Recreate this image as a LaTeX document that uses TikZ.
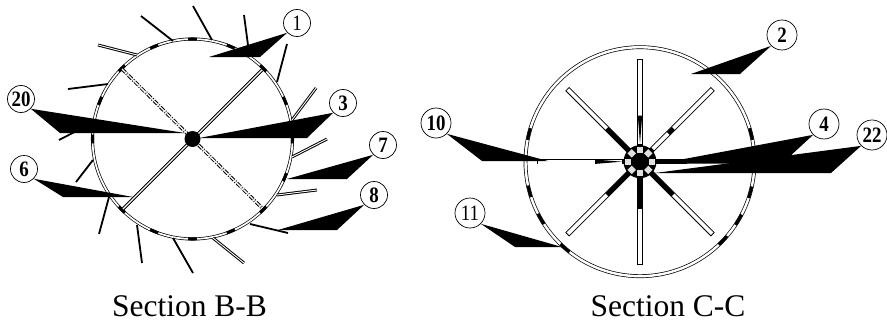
\documentclass[tikz,border=0pt]{standalone}
\usepackage{fontspec}
\setmainfont{Liberation Serif}
\newfontfamily\numfont[FakeStretch=0.86]{Liberation Serif}
\usetikzlibrary{calc, positioning}

\begin{document}
\begin{tikzpicture}[
    x=1pt, y=-1pt,
    hub node/.style={circle, fill=black, inner sep=0pt},
    ring B/.style={draw=black, line width=0.7pt, double=white, double distance=1.7pt},
    ring C/.style={draw=black, line width=0.7pt, double=white, double distance=2.4pt},
    ring mark/.style={draw=black, line width=3pt},
    fin/.style={draw=black, line width=1.8pt},
    double fin/.style={draw=black, line width=1pt, double=white, double distance=0.9pt},
    chain spoke/.style={draw=black, line width=1pt, double=white, double distance=1.3pt, dash pattern=on 5pt off 1.5pt on 1pt off 1.5pt},
    spoke/.style={draw=black, line width=5.4pt},
    slot/.style={draw=white, line width=3.6pt},
    hub square/.style={rectangle, fill=black!12, minimum size=6pt, inner sep=0pt},
    leader/.style={fill=black},
    num node/.style={circle, draw=black, fill=white, line width=0.7pt, minimum size=27pt, inner sep=0pt, font=\fontsize{22}{22}\numfont\bfseries},
    thin num/.style={font=\fontsize{22}{22}\numfont},
    caption node/.style={anchor=base, font=\fontsize{31.5}{36}\selectfont}
]
\useasboundingbox (0,0) rectangle (887,324);

% Hub centres
\coordinate (hub B) at (192.5,139);
\coordinate (hub C) at (640,161.7);

% Section B-B: ring
\draw[ring B] (hub B) circle[radius=100];

% Ring marks
\draw[ring mark] ($(hub B)+(-2.5:100)$) arc[start angle=-2.5, delta angle=5, radius=100];
\draw[ring mark] ($(hub B)+(20:100)$) arc[start angle=20, delta angle=5, radius=100];
\draw[ring mark] ($(hub B)+(42.5:100)$) arc[start angle=42.5, delta angle=5, radius=100];
\draw[ring mark] ($(hub B)+(65:100)$) arc[start angle=65, delta angle=5, radius=100];
\draw[ring mark] ($(hub B)+(87.5:100)$) arc[start angle=87.5, delta angle=5, radius=100];
\draw[ring mark] ($(hub B)+(110:100)$) arc[start angle=110, delta angle=5, radius=100];
\draw[ring mark] ($(hub B)+(132.5:100)$) arc[start angle=132.5, delta angle=5, radius=100];
\draw[ring mark] ($(hub B)+(177.5:100)$) arc[start angle=177.5, delta angle=5, radius=100];
\draw[ring mark] ($(hub B)+(200:100)$) arc[start angle=200, delta angle=5, radius=100];
\draw[ring mark] ($(hub B)+(222.5:100)$) arc[start angle=222.5, delta angle=5, radius=100];
\draw[ring mark] ($(hub B)+(245:100)$) arc[start angle=245, delta angle=5, radius=100];
\draw[ring mark] ($(hub B)+(267.5:100)$) arc[start angle=267.5, delta angle=5, radius=100];
\draw[ring mark] ($(hub B)+(290:100)$) arc[start angle=290, delta angle=5, radius=100];
\draw[ring mark] ($(hub B)+(312.5:100)$) arc[start angle=312.5, delta angle=5, radius=100];
\draw[ring mark] ($(hub B)+(335:100)$) arc[start angle=335, delta angle=5, radius=100];

% Outer fins
\draw[fin] (173,41) -- (141,16);
\draw[fin] (212,40) -- (193,6);
\draw[double fin] (137,55) -- (98,45);
\draw[fin] (108,84) -- (68,89);
\draw[fin] (94,122) -- (59,140);
\draw[fin] (248,45) -- (244,15);
\draw[fin] (277,82) -- (287,44);
\draw[double fin] (292,120) -- (316,88);
\draw[double fin] (292,157) -- (327,139);
\draw[fin] (93,160) -- (76,182);
\draw[fin] (109,197) -- (99,234);
\draw[fin] (137,225) -- (142,263);
\draw[fin] (173,238) -- (193,273);
\draw[double fin] (213,238) -- (244,263);
\draw[fin] (250,224) -- (288,233);
\draw[double fin] (277,195) -- (317,190);

% Inner spokes
\draw[double fin, double distance=1.4pt] (262,70) -- (123,209);
\draw[chain spoke] (122,69) -- (262,208);
\node[hub node, minimum size=16pt] (hub nB) at (hub B) {};

% Section C-C: ring
\draw[ring C] (hub C) circle[radius=114.5];

% Ring marks
\draw[ring mark] ($(hub C)+(-17:114.5)$) arc[start angle=-17, delta angle=6, radius=114.5];
\draw[ring mark] ($(hub C)+(12.5:114.5)$) arc[start angle=12.5, delta angle=6, radius=114.5];
\draw[ring mark] ($(hub C)+(27.5:114.5)$) arc[start angle=27.5, delta angle=6, radius=114.5];
\draw[ring mark] ($(hub C)+(40.5:114.5)$) arc[start angle=40.5, delta angle=6, radius=114.5];
\draw[ring mark] ($(hub C)+(128:114.5)$) arc[start angle=128, delta angle=6, radius=114.5];
\draw[ring mark] ($(hub C)+(147:114.5)$) arc[start angle=147, delta angle=6, radius=114.5];
\draw[ring mark] ($(hub C)+(162:114.5)$) arc[start angle=162, delta angle=6, radius=114.5];
\draw[ring mark] ($(hub C)+(191:114.5)$) arc[start angle=191, delta angle=6, radius=114.5];

% Spokes
\draw[spoke] (hub C) -- ($(hub C)+(0:103)$);
\draw[spoke] (hub C) -- ($(hub C)+(45:103)$);
\draw[spoke] (hub C) -- ($(hub C)+(90:103)$);
\draw[spoke] (hub C) -- ($(hub C)+(135:103)$);
\draw[spoke] (hub C) -- ($(hub C)+(180:103)$);
\draw[spoke] (hub C) -- ($(hub C)+(225:103)$);
\draw[spoke] (hub C) -- ($(hub C)+(270:103)$);
\draw[spoke] (hub C) -- ($(hub C)+(315:103)$);
\draw[slot] ($(hub C)+(0:47)$) -- ($(hub C)+(0:102)$);
\draw[slot] ($(hub C)+(45:47)$) -- ($(hub C)+(45:102)$);
\draw[slot] ($(hub C)+(90:47)$) -- ($(hub C)+(90:102)$);
\draw[slot] ($(hub C)+(135:47)$) -- ($(hub C)+(135:102)$);
\draw[slot] ($(hub C)+(180:18)$) -- ($(hub C)+(180:102)$);
\draw[slot] ($(hub C)+(225:47)$) -- ($(hub C)+(225:102)$);
\draw[slot] ($(hub C)+(270:18)$) -- ($(hub C)+(270:102)$);
\draw[slot] ($(hub C)+(315:18)$) -- ($(hub C)+(315:102)$);

% Black parts left in the slots
\fill ($(hub C)+(-45,-2.2)$) -- ($(hub C)+(-45,2.2)$) -- ($(hub C)+(-18,0)$) -- cycle;
\fill ($(hub C)+(-2.2,-46)$) -- ($(hub C)+(2.2,-46)$) -- ($(hub C)+(0,-18)$) -- cycle;
\draw[spoke, line width=4pt] ($(hub C)+(315:40)$) -- ($(hub C)+(315:47)$);

% Hub
\node[hub node, minimum size=33pt] (hub nC) at (hub C) {};
\node[hub square] (s1) at ($(hub C)+(0:11.7)$) {};
\node[hub square, rotate=45] (s2) at ($(hub C)+(45:11.7)$) {};
\node[hub square] (s3) at ($(hub C)+(90:11.7)$) {};
\node[hub square, rotate=45] (s4) at ($(hub C)+(135:11.7)$) {};
\node[hub square] (s5) at ($(hub C)+(180:11.7)$) {};
\node[hub square, rotate=45] (s6) at ($(hub C)+(225:11.7)$) {};
\node[hub square] (s7) at ($(hub C)+(270:11.7)$) {};
\node[hub square, rotate=45] (s8) at ($(hub C)+(315:11.7)$) {};

% Number nodes
\node[num node, thin num] (n1) at (297,23) {1};
\node[num node] (n3) at (343,103) {3};
\node[num node] (n20) at (21,99) {20};
\node[num node] (n6) at (24,169) {6};
\node[num node] (n7) at (383,145) {7};
\node[num node] (n8) at (374,195) {8};
\node[num node, minimum size=30pt] (n2) at (782,35) {2};
\node[num node, minimum size=30pt] (n4) at (824,124) {4};
\node[num node, minimum size=30pt] (n22) at (872,135) {22};
\node[num node, minimum size=30pt] (n10) at (436,123) {10};
\node[num node, thin num, minimum size=30pt] (n11) at (470,213) {11};

% Leader elbows and tips
\coordinate (e1) at (260,57);
\coordinate (t1) at (209,57);
\coordinate (e3) at (307,138);
\coordinate (t3) at (199,138);
\coordinate (e20) at (60,133);
\coordinate (t20) at (185,133);
\coordinate (e6) at (63,197);
\coordinate (t6) at (133,197);
\coordinate (e7) at (347,179);
\coordinate (t7) at (287,179);
\coordinate (e8) at (337,230);
\coordinate (t8) at (278,230);
\coordinate (e2) at (740,74);
\coordinate (t2) at (691,74);
\coordinate (e4) at (782,163.5);
\coordinate (t4) at (660,163.5);
\coordinate (e22) at (831,173);
\coordinate (t22) at (655,173);
\coordinate (e10) at (482,161);
\coordinate (t10) at (548,161);
\coordinate (e11) at (515,247);
\coordinate (t11) at (562,247);

% Leaders
\fill[leader] (n1.south west) -- (e1) -- (t1) -- cycle;
\fill[leader] (n3.south west) -- (e3) -- (t3) -- cycle;
\fill[leader] (n20.south east) -- (e20) -- (t20) -- cycle;
\fill[leader] (n6.south east) -- (e6) -- (t6) -- cycle;
\fill[leader] (n7.south west) -- (e7) -- (t7) -- cycle;
\fill[leader] (n8.south west) -- (e8) -- (t8) -- cycle;
\fill[leader] (n2.south west) -- (e2) -- (t2) -- cycle;
\fill[leader] (n4.south west) -- (e4) -- (t4) -- cycle;
\fill[leader] (n22.south west) -- (e22) -- (t22) -- cycle;
\fill[leader] (n10.south east) -- (e10) -- (t10) -- cycle;
\fill[leader] (n11.south east) -- (e11) -- (t11) -- cycle;

% Captions
\node[caption node] (cap B) at (189.5,316) {Section B-B};
\node[caption node] (cap C) at (668,316) {Section C-C};
\end{tikzpicture}
\end{document}
